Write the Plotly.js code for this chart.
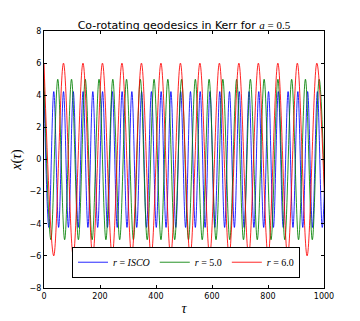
<!DOCTYPE html>
<html>
<head>
<meta charset="utf-8">
<script src="https://cdn.plot.ly/plotly-3.0.1.min.js"></script>
<style>
  html, body { margin: 0; padding: 0; background: #fff; }
  #chart { width: 360px; height: 321px; }
</style>
</head>
<body>
<div id="chart"></div>
<script>
// extrema of x(tau) (peaks / troughs, in order)
const blueTau = [0, 17.4, 34.9, 52.3, 69.7, 87.2, 104.6, 122.0, 139.5, 156.9,
  174.4, 191.8, 209.2, 226.7, 244.1, 261.5, 279.0, 296.4, 313.8, 331.3,
  348.7, 366.1, 383.6, 401.0, 418.4, 435.9, 453.3, 470.7, 488.2, 505.6,
  523.1, 540.5, 557.9, 575.4, 592.8, 610.2, 627.7, 645.1, 662.5, 680.0,
  697.4, 714.8, 732.3, 749.7, 767.1, 784.6, 802.0, 819.4, 836.9, 854.3,
  871.8, 889.2, 906.6, 924.1, 941.5, 958.9, 976.4, 993.8, 1011.3];
const blueX = [4.23, -4.23, 4.23, -4.23, 4.23, -4.23, 4.23, -4.23, 4.23, -4.23,
  4.23, -4.23, 4.23, -4.23, 4.23, -4.23, 4.23, -4.23, 4.23, -4.23,
  4.23, -4.23, 4.23, -4.23, 4.23, -4.23, 4.23, -4.23, 4.23, -4.23,
  4.23, -4.23, 4.23, -4.23, 4.23, -4.23, 4.23, -4.23, 4.23, -4.23,
  4.23, -4.23, 4.23, -4.23, 4.23, -4.23, 4.23, -4.23, 4.23, -4.23,
  4.23, -4.23, 4.23, -4.23, 4.23, -4.23, 4.23, -4.23, 4.23];

const greenTau = [0, 24.6, 49.1, 73.7, 98.3, 122.9, 147.4, 172.0, 196.6, 221.1,
  245.7, 270.3, 294.8, 319.4, 344.0, 368.6, 393.1, 417.7, 442.3, 466.8,
  491.4, 516.0, 540.5, 565.1, 589.7, 614.3, 638.8, 663.4, 688.0, 712.5,
  737.1, 761.7, 786.2, 810.8, 835.4, 860.0, 884.5, 909.1, 933.7, 958.2,
  982.8, 1007.4];
const greenX = [5, -5, 5, -5, 5, -5, 5, -5, 5, -5,
  5, -5, 5, -5, 5, -5, 5, -5, 5, -5,
  5, -5, 5, -5, 5, -5, 5, -5, 5, -5,
  5, -5, 5, -5, 5, -5, 5, -5, 5, -5,
  5, -5];

const redTau = [0, 34.8, 69.6, 104.4, 139.2, 174.0, 208.8, 243.6, 278.4, 313.2,
  348.0, 382.8, 417.6, 452.4, 487.2, 522.0, 556.8, 591.6, 626.4, 661.2,
  696.0, 730.8, 765.6, 800.4, 835.2, 870.0, 904.8, 939.6, 974.4, 1009.2];
const redX = [6, -6, 6, -6, 6, -6, 6, -6, 6, -6,
  6, -6, 6, -6, 6, -6, 6, -6, 6, -6,
  6, -6, 6, -6, 6, -6, 6, -6, 6, -6];

const seriesNames = ["<i>r</i> = <i>ISCO</i>", "<i>r</i> = 5.0", "<i>r</i> = 6.0"];
const seriesColors = ["#0000ff", "#008000", "#ff0000"];
const xTicks = [0, 200, 400, 600, 800, 1000];
const yTicks = [-8, -6, -4, -2, 0, 2, 4, 6, 8];

const serif = "Liberation Serif, DejaVu Serif, serif";
const sans = "DejaVu Sans, sans-serif";

const plotData = [
  [blueTau, blueX],
  [greenTau, greenX],
  [redTau, redX],
].map(([t, x], i) => ({
  type: "scatter",
  mode: "lines",
  x: t,
  y: x,
  name: seriesNames[i],
  line: { color: seriesColors[i], width: 1, shape: "spline", smoothing: 1 },
  opacity: 0.85,
}));

const baseAxis = {
  showline: true,
  linecolor: "black",
  linewidth: 1,
  mirror: "allticks",
  ticks: "inside",
  ticklen: 3,
  tickcolor: "black",
  showgrid: false,
  zeroline: false,
  tickfont: { family: sans, size: 8, color: "black" },
};

const layout = {
  width: 360,
  height: 321,
  paper_bgcolor: "white",
  plot_bgcolor: "white",
  margin: { l: 44, r: 36, t: 31, b: 33, pad: 0 },
  title: {
    text: 'Co-rotating geodesics in Kerr for <span style="font-family:Liberation Serif"><i>a</i> = 0.5</span>',
    font: { family: sans, size: 11, color: "black" },
    x: 0.5,
    xref: "paper",
    xanchor: "center",
    y: 1,
    yref: "paper",
    yanchor: "bottom",
    pad: { b: 2 },
  },
  xaxis: {
    ...baseAxis,
    range: [0, 1000],
    tickvals: xTicks,
    title: { text: "<i>τ</i>", font: { family: serif, size: 14, color: "black" }, standoff: 3 },
  },
  yaxis: {
    ...baseAxis,
    range: [-8, 8],
    tickvals: yTicks,
    title: { text: "<i>x</i>(<i>τ</i>)", font: { family: serif, size: 14, color: "black" }, standoff: 4 },
  },
  showlegend: true,
  legend: {
    orientation: "h",
    x: 0.1,
    xanchor: "left",
    y: 0.04,
    yanchor: "bottom",
    bgcolor: "white",
    bordercolor: "black",
    borderwidth: 1,
    font: { family: serif, size: 10, color: "black" },
    itemwidth: 30,
  },
};

Plotly.newPlot(document.getElementById("chart"), plotData, layout, {
  displayModeBar: false,
  staticPlot: true,
});
</script>
</body>
</html>
